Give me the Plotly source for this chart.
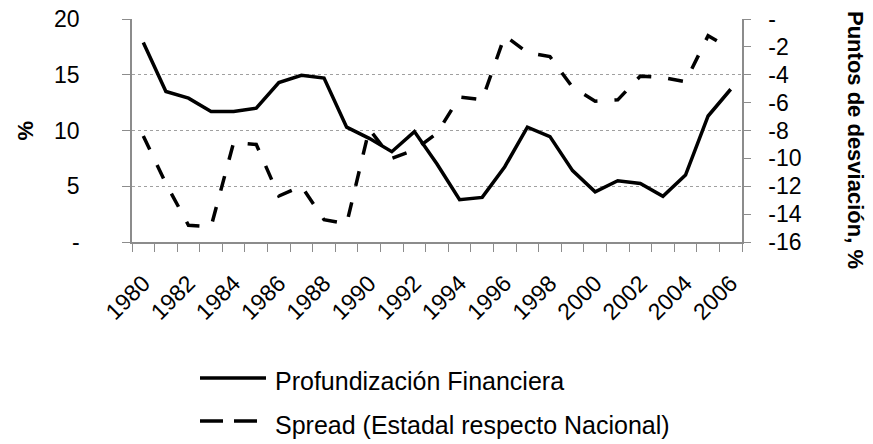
import plotly.graph_objects as go

years = [1980, 1981, 1982, 1983, 1984, 1985, 1986, 1987, 1988, 1989, 1990, 1991, 1992, 1993,
         1994, 1995, 1996, 1997, 1998, 1999, 2000, 2001, 2002, 2003, 2004, 2005, 2006]
profundizacion = [17.9, 13.5, 12.9, 11.7, 11.7, 12.0, 14.3, 14.95, 14.7, 10.3, 9.3, 8.1, 9.9, 7.0,
                  3.8, 4.0, 6.75, 10.3, 9.45, 6.4, 4.5, 5.5, 5.25, 4.1, 6.0, 11.3, 13.7]
spread = [-8.4, -11.8, -14.8, -14.9, -8.85, -9.0, -12.7, -12.0, -14.4, -14.7, -7.9, -10.0, -9.4, -8.2,
          -5.6, -5.8, -1.2, -2.4, -2.7, -4.9, -5.9, -5.8, -4.1, -4.2, -4.5, -1.2, -2.15]

x_tickvals = [1980, 1982, 1984, 1986, 1988, 1990, 1992, 1994, 1996, 1998, 2000, 2002, 2004, 2006]
x_ticktext = [str(v) for v in x_tickvals]
y1_tickvals = [0, 5, 10, 15, 20]
y1_ticktext = ["-", "5", "10", "15", "20"]
y2_tickvals = [0, -2, -4, -6, -8, -10, -12, -14, -16]
y2_ticktext = ["-", "-2", "-4", "-6", "-8", "-10", "-12", "-14", "-16"]

name1 = "Profundización Financiera"
name2 = "Spread (Estadal respecto Nacional)"

FONT = "Liberation Sans, Arial, sans-serif"
AXIS_GRAY = "#8c8c8c"

fig = go.Figure()
fig.add_trace(go.Scatter(x=years, y=profundizacion, mode="lines", name=name1,
                         line=dict(color="black", width=3.5), showlegend=False))
fig.add_trace(go.Scatter(x=years, y=spread, mode="lines", name=name2, yaxis="y2",
                         line=dict(color="black", width=3.5, dash="15px,17px"), showlegend=False))

# legend drawn manually (paper coordinates relative to plot area)
def px2x(px):
    return (px - 132) / 610.0

def py2y(py):
    return (242 - py) / 223.0

fig.add_shape(type="line", xref="paper", yref="paper",
              x0=px2x(200), x1=px2x(266), y0=py2y(378), y1=py2y(378),
              line=dict(color="black", width=3.5))
fig.add_shape(type="line", xref="paper", yref="paper",
              x0=px2x(200), x1=px2x(257), y0=py2y(421), y1=py2y(421),
              line=dict(color="black", width=3.5, dash="23px,11px"))
fig.add_annotation(text=name1, xref="paper", yref="paper", x=px2x(273), y=py2y(381),
                   xanchor="left", yanchor="middle", showarrow=False,
                   font=dict(family=FONT, size=25, color="black"))
fig.add_annotation(text=name2, xref="paper", yref="paper", x=px2x(273), y=py2y(425),
                   xanchor="left", yanchor="middle", showarrow=False,
                   font=dict(family=FONT, size=25, color="black"))

# axis titles
fig.add_annotation(text="<b>%</b>", xref="paper", yref="paper", x=px2x(25), y=0.5,
                   xanchor="center", yanchor="middle", showarrow=False, textangle=-90,
                   font=dict(family=FONT, size=22, color="black"))
fig.add_annotation(text="<b>Puntos de desviación, %</b>", xref="paper", yref="paper",
                   x=px2x(856), y=py2y(140), xanchor="center", yanchor="middle",
                   showarrow=False, textangle=90,
                   font=dict(family=FONT, size=22, color="black"))

fig.update_layout(
    width=873, height=444,
    margin=dict(l=132, r=131, t=19, b=202, autoexpand=False),
    paper_bgcolor="white", plot_bgcolor="white",
    font=dict(family=FONT, size=23, color="black"),
    showlegend=False,
    xaxis=dict(
        range=[1979.5, 2006.5], automargin=False,
        tickmode="array", tickvals=x_tickvals, ticktext=x_ticktext,
        tickangle=-45, ticks="", showgrid=False, zeroline=False,
        showline=True, linecolor=AXIS_GRAY, linewidth=1.5,
        ticklabelstandoff=17,
        minor=dict(tick0=1979.5, dtick=1, ticks="outside", ticklen=8,
                   tickcolor=AXIS_GRAY, tickwidth=1.2, showgrid=False),
        tickfont=dict(family=FONT, size=23, color="black"),
    ),
    yaxis=dict(
        range=[0, 20], automargin=False,
        tickmode="array", tickvals=y1_tickvals, ticktext=y1_ticktext,
        ticks="outside", ticklen=8, tickcolor=AXIS_GRAY, tickwidth=1.2,
        showline=True, linecolor=AXIS_GRAY, linewidth=1.5,
        showgrid=True, gridcolor="#a0a0a0", griddash="dot", gridwidth=1,
        zeroline=False, ticklabelstandoff=38,
        tickfont=dict(family=FONT, size=23, color="black"),
    ),
    yaxis2=dict(
        range=[-16, 0], overlaying="y", side="right", automargin=False,
        tickmode="array", tickvals=y2_tickvals, ticktext=y2_ticktext,
        ticks="outside", ticklen=7, tickcolor=AXIS_GRAY, tickwidth=1.2,
        showline=True, linecolor=AXIS_GRAY, linewidth=1.5,
        showgrid=False, zeroline=False, ticklabelstandoff=13,
        tickfont=dict(family=FONT, size=23, color="black"),
    ),
)

fig.write_html("out.html", config={"displayModeBar": False},
               post_script="document.body.style.margin='0';document.body.style.overflow='hidden';")
